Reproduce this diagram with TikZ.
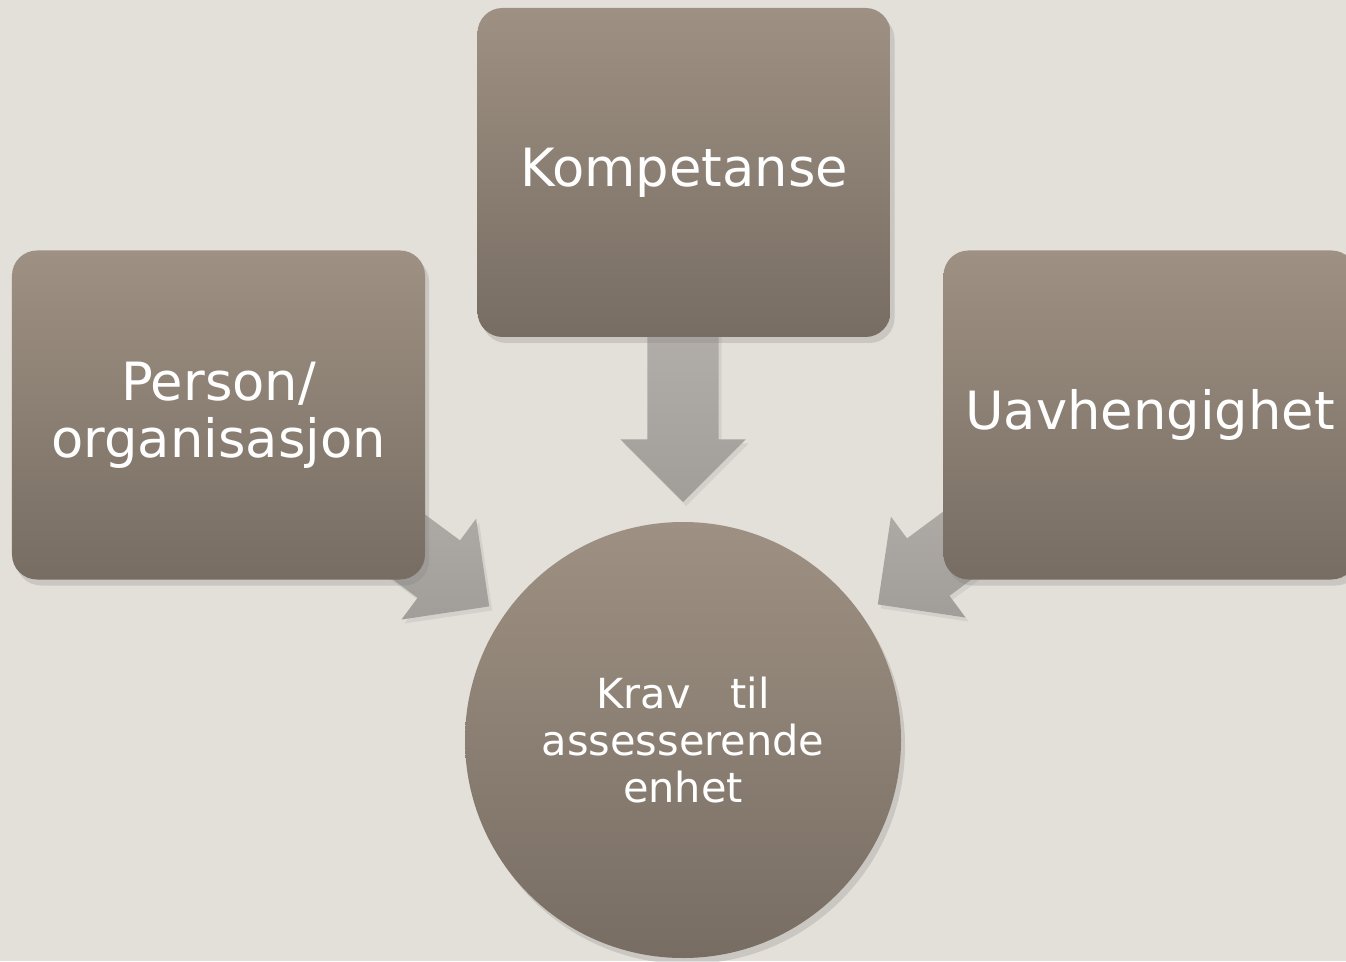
\documentclass[tikz,border=0pt]{standalone}
\usepackage{fontspec}
\setmainfont{DejaVu Sans}
\usetikzlibrary{shapes.arrows,shadows}

\definecolor{bgcol}{HTML}{E3DFD9}
\definecolor{boxtop}{HTML}{9E9183}
\definecolor{boxbot}{HTML}{786D63}
\definecolor{arrtop}{HTML}{B3AFAB}
\definecolor{arrbot}{HTML}{A19E9A}

\tikzset{
  theme/.style={top color=boxtop, bottom color=boxbot, text=white,
    drop shadow={opacity=0.25, shadow xshift=0.4mm, shadow yshift=-0.6mm}},
  infobox/.style={theme, rounded corners=0.25cm, minimum width=4.13cm,
    minimum height=3.29cm, align=center, font=\fontsize{15}{16.2}\selectfont},
  goalcircle/.style={theme, circle, inner sep=0pt, minimum size=4.36cm,
    align=center, font=\fontsize{11.8}{13.4}\selectfont},
  blockarrow/.style={single arrow, top color=arrtop, bottom color=arrbot,
    inner xsep=0pt, inner ysep=0.35cm, single arrow head extend=0.27cm,
    single arrow tip angle=90, minimum height=1.9cm, anchor=tip,
    drop shadow={opacity=0.15, shadow xshift=0.3mm, shadow yshift=-0.4mm}}
}

\begin{document}
\begin{tikzpicture}
    \fill[bgcol] (0,0) rectangle (13.46,9.61);
    \useasboundingbox (0,0) rectangle (13.46,9.61);

    % arrows go under the boxes
    \node[blockarrow, rotate=-90] (arrK) at (6.83,4.58) {};
    \node[blockarrow, rotate=-36.5] (arrP) at (4.90,3.54) {};
    \node[blockarrow, rotate=-143.5] (arrU) at (8.77,3.56) {};

    \node[infobox] (komp) at (6.84,7.885) {Kompetanse};
    \node[infobox] (person) at (2.185,5.46) {Person/\\organisasjon};
    \node[infobox] (uavh) at (11.50,5.46) {Uavhengighet};
    \node[goalcircle] (krav) at (6.83,2.21) {Krav \ \ til\\assesserende\\enhet};
\end{tikzpicture}
\end{document}
